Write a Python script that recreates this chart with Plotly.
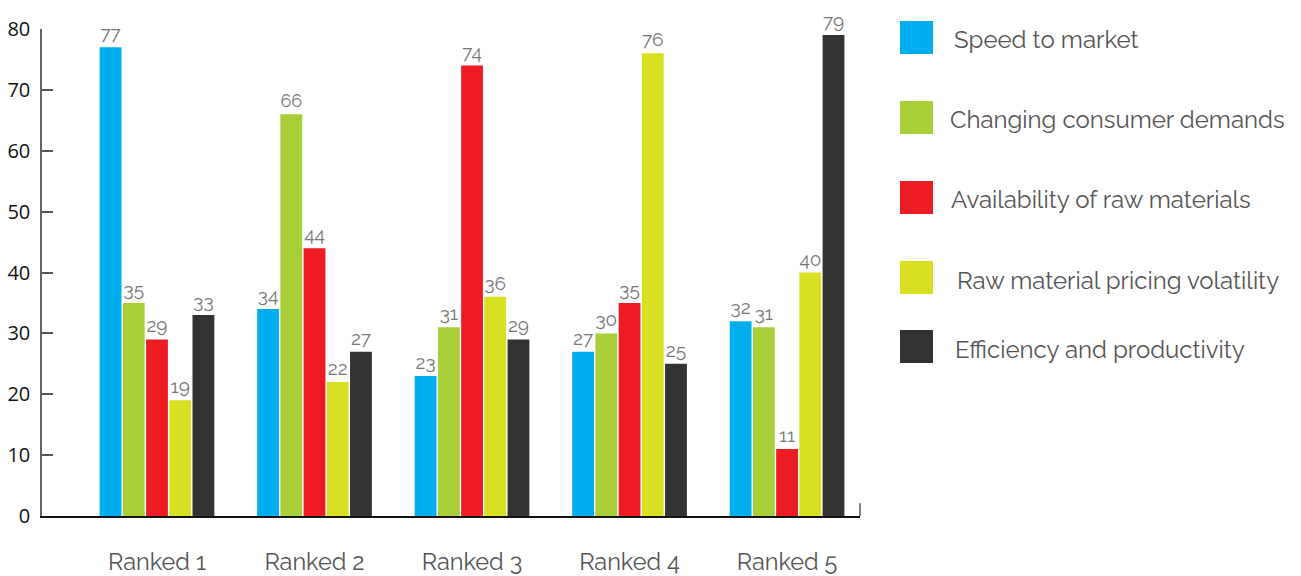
import plotly.graph_objects as go

categories = ["Ranked 1", "Ranked 2", "Ranked 3", "Ranked 4", "Ranked 5"]
series_names = [
    "Speed to market",
    "Changing consumer demands",
    "Availability of raw materials",
    "Raw material pricing volatility",
    "Efficiency and productivity",
]
speed_to_market = [77, 34, 23, 27, 32]
changing_demands = [35, 66, 31, 30, 31]
raw_availability = [29, 44, 74, 35, 11]
pricing_volatility = [19, 22, 36, 76, 40]
efficiency = [33, 27, 29, 25, 79]
y_ticks = [0, 10, 20, 30, 40, 50, 60, 70, 80]

series_values = [speed_to_market, changing_demands, raw_availability,
                 pricing_volatility, efficiency]
colors = ["#00AEEF", "#A8CF38", "#ED1C24", "#D9E021", "#333333"]

FONT = "Raleway, Lato, 'Open Sans', sans-serif"
x_idx = list(range(len(categories)))

fig = go.Figure()
for name, vals, col in zip(series_names, series_values, colors):
    fig.add_trace(go.Bar(
        x=x_idx, y=vals, name=name,
        marker=dict(color=col, line=dict(width=0)),
        text=[str(v) for v in vals], textposition="outside", cliponaxis=False,
        textfont=dict(family=FONT, size=19, color="#777777"),
        showlegend=False,
    ))

L, R, T, B = 42, 441, 29, 60
W, H = 1301, 576
pw = W - L - R
ph = H - T - B

# hand-placed legend: swatch squares and labels on the right
legend_rows = [(21, 952), (101, 948), (181, 949), (261, 955), (330, 953)]
for (top, lx), name, col in zip(legend_rows, series_names, colors):
    x0 = (900 - L) / pw
    x1 = (933 - L) / pw
    y0 = 1 - (top - T) / ph
    y1 = 1 - (top + 33 - T) / ph
    fig.add_shape(type="rect", xref="paper", yref="paper", x0=x0, x1=x1,
                  y0=y1, y1=y0, fillcolor=col, line=dict(width=0))
    fig.add_annotation(xref="paper", yref="paper", x=(lx - L) / pw,
                       y=1 - (top + 19 - T) / ph, text=name, showarrow=False,
                       xanchor="left", yanchor="middle",
                       font=dict(family=FONT, size=24, color="#555555"))

# small end tick at the right of the baseline
fig.add_shape(type="line", xref="paper", yref="y", x0=1, x1=1, y0=0, y1=2.1,
              line=dict(color="#555555", width=1.5))

fig.update_layout(
    width=W, height=H,
    margin=dict(l=L, r=R, t=T, b=B),
    plot_bgcolor="white", paper_bgcolor="white",
    barmode="group", bargap=0.263, bargroupgap=0.06,
    xaxis=dict(range=[-0.73, 4.463], tickvals=x_idx, ticktext=categories,
               automargin=False,
               showgrid=False, zeroline=False, showline=True,
               linecolor="#111111", linewidth=1.5, ticks="",
               ticklabelstandoff=24,
               tickfont=dict(family=FONT, size=23.5, color="#555555")),
    yaxis=dict(range=[0, 80], tickvals=y_ticks, showgrid=False, zeroline=False,
               automargin=False,
               showline=True, linecolor="#666666", linewidth=1.5,
               ticks="inside", ticklen=11, tickcolor="#555555", tickwidth=1.5,
               ticklabelstandoff=6,
               tickfont=dict(family="'Open Sans', sans-serif", size=20, color="#111111")),
)

fig.write_html("out.html")
